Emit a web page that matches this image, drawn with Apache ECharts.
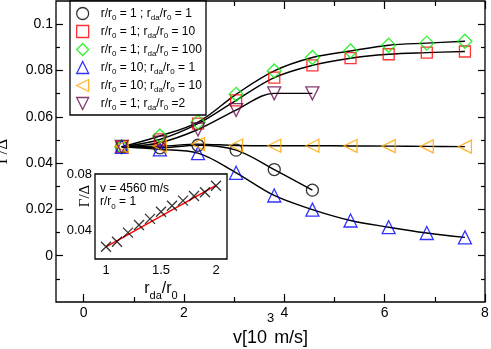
<!DOCTYPE html>
<html><head><meta charset="utf-8">
<script src="https://cdn.jsdelivr.net/npm/echarts@6/dist/echarts.min.js"></script>
<style>html,body{margin:0;padding:0;background:#fff}#c{width:491px;height:349px}</style>
</head><body><div id="c"></div>
<script>
// ---- data ----
const vValues = [0.76, 1.52, 2.28, 3.04, 3.80, 4.56, 5.32, 6.08, 6.84, 7.60];
const gammaR1Rda1   = [0.0470, 0.0466, 0.0477, 0.0456, 0.0372, 0.0283];
const gammaR1Rda10  = [0.0470, 0.0502, 0.0570, 0.0671, 0.0769, 0.0822, 0.0853, 0.0870, 0.0877, 0.0882];
const gammaR1Rda100 = [0.0470, 0.0517, 0.0577, 0.0697, 0.0798, 0.0856, 0.0884, 0.0909, 0.0918, 0.0926];
const gammaR10Rda1  = [0.0470, 0.0459, 0.0443, 0.0358, 0.0260, 0.0199, 0.0152, 0.0123, 0.0098, 0.0079];
const gammaR10Rda10 = [0.0472, 0.0473, 0.0482, 0.0476, 0.0475, 0.0475, 0.0474, 0.0473, 0.0472, 0.0471];
const gammaR1Rda2   = [0.0470, 0.0488, 0.0545, 0.0629, 0.0701, 0.0701];
const legendLabels = [
  'r/r{s|0} = 1 ; r{s|da}/r{s|0} = 1',
  'r/r{s|0} = 1; r{s|da}/r{s|0} = 10',
  'r/r{s|0} = 1; r{s|da}/r{s|0} = 100',
  'r/r{s|0} = 10; r{s|da}/r{s|0} = 1',
  'r/r{s|0} = 10; r{s|da}/r{s|0} = 10',
  'r/r{s|0} = 1; r{s|da}/r{s|0} =2'
];
const xMajorTicks = [0, 2, 4, 6, 8];
const xMinorTicks = [1, 3, 5, 7];
const yMajorTicks = [0, 0.02, 0.04, 0.06, 0.08, 0.1];
const yMinorTicks = [-0.01, 0.01, 0.03, 0.05, 0.07, 0.09];
// inset
const rdaValues = [1.0, 1.1, 1.2, 1.3, 1.4, 1.5, 1.6, 1.7, 1.8, 1.9, 2.0];
const gammaInset = [0.0287, 0.0322, 0.0386, 0.0440, 0.0483, 0.0534, 0.0576, 0.0612, 0.0645, 0.0671, 0.0717];
const fitX = [1.0, 2.0];
const fitY = [0.0285, 0.0720];
const insetXLabels = [1, 1.5, 2];
const insetXMinor = [1.25, 1.75];
const insetYLabels = [0.04, 0.08];
const insetYTicks = [0.04, 0.06, 0.08];

// ---- chart ----
const FONT = 'Liberation Sans';
const chart = echarts.init(document.getElementById('c'), null, {renderer: 'canvas'});
const black = '#000';
const zip = (xs, ys) => ys.map((y, i) => [xs[i], y]);
const tickStyle = {color: black, width: 1.2};
const noLine = {show: false, onZero: false};

function xAx(opt) {
  return Object.assign({
    type: 'value', gridIndex: 0, min: -0.55, max: 8, position: 'bottom',
    axisLine: noLine, splitLine: {show: false},
    axisTick: {show: true, inside: true, length: 8, lineStyle: tickStyle},
    axisLabel: {show: false}
  }, opt);
}
function yAx(opt) {
  return Object.assign({
    type: 'value', gridIndex: 0, min: -0.02, max: 0.11, position: 'left',
    axisLine: noLine, splitLine: {show: false},
    axisTick: {show: true, inside: true, length: 7, lineStyle: tickStyle},
    axisLabel: {show: false}
  }, opt);
}
function ixAx(opt) {
  return Object.assign({
    type: 'value', gridIndex: 1, min: 0.9, max: 2.1, position: 'bottom',
    axisLine: noLine, splitLine: {show: false},
    axisTick: {show: true, inside: true, length: 5, lineStyle: tickStyle, customValues: insetXLabels},
    axisLabel: {show: false}
  }, opt);
}
function iyAx(opt) {
  return Object.assign({
    type: 'value', gridIndex: 1, min: 0.02, max: 0.08, position: 'left',
    axisLine: noLine, splitLine: {show: false},
    axisTick: {show: true, inside: true, length: 5, lineStyle: tickStyle, customValues: insetYTicks},
    axisLabel: {show: false}
  }, opt);
}

const symbols = [
  {sym: 'circle', rot: 0, size: 12, color: '#000000', icon: 'circle'},
  {sym: 'rect', rot: 0, size: 11, color: '#ff0000', icon: 'rect'},
  {sym: 'diamond', rot: 0, size: 14, color: '#00ee00', icon: 'diamond'},
  {sym: 'triangle', rot: 0, size: 13, color: '#0000ff', icon: 'triangle'},
  {sym: 'triangle', rot: 90, size: 13, color: '#ffa500', icon: 'path://M10,0L0,5L10,10Z'},
  {sym: 'triangle', rot: 180, size: 13, color: '#670748', icon: 'path://M0,0L10,0L5,10Z'}
];
const seriesData = [gammaR1Rda1, gammaR1Rda10, gammaR1Rda100, gammaR10Rda1, gammaR10Rda10, gammaR1Rda2];
const names = ['s1','s2','s3','s4','s5','s6'];

const series = [];
seriesData.forEach((d, i) => {
  series.push({
    name: 'fit' + i, type: 'line', xAxisIndex: 0, yAxisIndex: 0,
    data: zip(vValues, d), smooth: 0.35, showSymbol: false, silent: true,
    lineStyle: {color: black, width: 1.4}, z: 2
  });
});
seriesData.forEach((d, i) => {
  const s = symbols[i];
  series.push({
    name: names[i], type: 'scatter', xAxisIndex: 0, yAxisIndex: 0,
    data: zip(vValues, d), symbol: s.sym, symbolRotate: s.rot, symbolSize: s.size,
    itemStyle: {color: 'transparent', borderColor: s.color, borderWidth: 1.3}, z: 3
  });
});
series.push({
  name: 'insetPts', type: 'scatter', xAxisIndex: 4, yAxisIndex: 4,
  data: zip(rdaValues, gammaInset), symbol: 'path://M0,0L10,10M10,0L0,10', symbolSize: 10,
  itemStyle: {color: 'transparent', borderColor: black, borderWidth: 1.3}, z: 5
});
series.push({
  name: 'insetFit', type: 'line', xAxisIndex: 4, yAxisIndex: 4,
  data: zip(fitX, fitY), showSymbol: false, lineStyle: {color: '#ff0000', width: 1.4}, z: 4
});

const option = {
  animation: false,
  backgroundColor: '#fff',
  textStyle: {fontFamily: FONT},
  grid: [
    {left: 56, right: 6, top: 1, bottom: 47, outerBoundsMode: 'none', containLabel: false,
     show: true, borderColor: black, borderWidth: 1.3, backgroundColor: 'transparent'},
    {left: 95, top: 174, width: 132, height: 85, outerBoundsMode: 'none', containLabel: false,
     show: true, borderColor: black, borderWidth: 1.3, backgroundColor: '#fff', z: 3}
  ],
  xAxis: [
    xAx({axisTick: {show: true, inside: true, length: 8, lineStyle: tickStyle, customValues: xMajorTicks},
         axisLabel: {show: true, customValues: xMajorTicks, color: black, fontSize: 14, margin: 4, fontFamily: FONT},
         name: 'v[10{p|3}m/s]', nameLocation: 'middle', nameGap: 10, nameMoveOverlap: false,
         nameTextStyle: {color: black, fontSize: 18, fontFamily: FONT, lineHeight: 53,
           rich: {p: {fontSize: 13, verticalAlign: 'top', lineHeight: 53, fontFamily: FONT, color: black}}}}),
    xAx({axisTick: {show: true, inside: true, length: 5, lineStyle: tickStyle, customValues: xMinorTicks}}),
    xAx({position: 'top', axisTick: {show: true, inside: true, length: 8, lineStyle: tickStyle, customValues: xMajorTicks}}),
    xAx({position: 'top', axisTick: {show: true, inside: true, length: 5, lineStyle: tickStyle, customValues: xMinorTicks}}),
    ixAx({axisLabel: {show: true, customValues: insetXLabels, color: black, fontSize: 13, margin: 5, fontFamily: FONT},
     name: 'r{s|da}/r{s|0}', nameLocation: 'middle', nameGap: 18, nameMoveOverlap: false,
     nameTextStyle: {color: black, fontSize: 16, fontFamily: FONT, lineHeight: 20,
       rich: {s: {fontSize: 11, verticalAlign: 'bottom', lineHeight: 24, fontFamily: FONT, color: black}}}}),
    ixAx({axisTick: {show: true, inside: true, length: 3, lineStyle: tickStyle, customValues: insetXMinor}}),
    ixAx({position: 'top'})
  ],
  yAxis: [
    yAx({axisTick: {show: true, inside: true, length: 7, lineStyle: tickStyle, customValues: yMajorTicks},
         axisLabel: {show: true, customValues: yMajorTicks, color: black, fontSize: 14, margin: 3, fontFamily: FONT,
           formatter: v => (Math.round(v * 100) / 100).toString()},
         name: 'Γ/Δ', nameLocation: 'middle', nameGap: 45, nameRotate: 90, nameMoveOverlap: false,
         nameTextStyle: {color: black, fontSize: 17, fontFamily: 'Liberation Serif'}}),
    yAx({axisTick: {show: true, inside: true, length: 4, lineStyle: tickStyle, customValues: yMinorTicks}}),
    yAx({position: 'right', axisTick: {show: true, inside: true, length: 7, lineStyle: tickStyle, customValues: yMajorTicks}}),
    yAx({position: 'right', axisTick: {show: true, inside: true, length: 4, lineStyle: tickStyle, customValues: yMinorTicks}}),
    iyAx({axisLabel: {show: true, customValues: insetYLabels, color: black, fontSize: 13, margin: 3, fontFamily: FONT}}),
    iyAx({position: 'right'})
  ],
  legend: {
    data: names.map((n, i) => ({name: n, icon: symbols[i].icon})),
    left: 76, top: 5, orient: 'vertical', itemWidth: 12, itemHeight: 12, itemGap: 1, padding: 0,
    selectedMode: false,
    itemStyle: {borderWidth: 1.3},
    formatter: n => '{g| }' + legendLabels[names.indexOf(n)],
    textStyle: {fontFamily: FONT, fontSize: 12, color: black, lineHeight: 17,
      rich: {s: {fontSize: 8, verticalAlign: 'bottom', lineHeight: 17, fontFamily: FONT, color: black},
             g: {width: 7, fontSize: 12, lineHeight: 17}}},
    z: 10
  },
  graphic: [
    {type: 'rect', shape: {x: 70, y: 1, width: 136, height: 114}, style: {fill: '#fff', stroke: black, lineWidth: 1.3}, z: 5},
    {type: 'text', x: 100, y: 189, style: {text: 'v = 4560 m/s', font: '12px ' + FONT, fill: black, verticalAlign: 'middle'}, z: 10},
    {type: 'text', x: 100, y: 202, style: {text: 'r/r{s|0} = 1', font: '12px ' + FONT, fill: black, verticalAlign: 'middle',
      rich: {s: {fontSize: 8, verticalAlign: 'bottom', lineHeight: 17, fontFamily: FONT}}}, z: 10},
    {type: 'text', x: 85, y: 196, rotation: Math.PI / 2, style: {text: 'Γ/Δ', font: '15px Liberation Serif', fill: black, align: 'center', verticalAlign: 'middle'}, z: 10}
  ],
  series: series
};
chart.setOption(option);
</script></body></html>
